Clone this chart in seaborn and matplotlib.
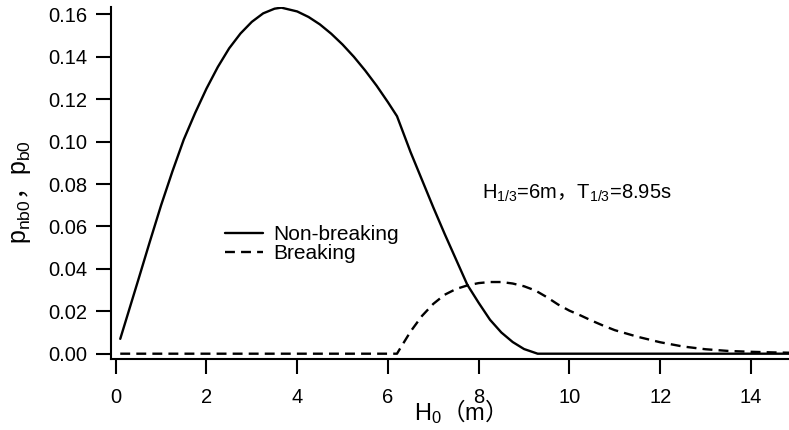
import matplotlib
matplotlib.use("Agg")
import matplotlib.pyplot as plt
import seaborn as sns
import pandas as pd

# Wave height H0 (m) and probability of non-breaking waves
h_nonbreak = [0.1, 0.25, 0.5, 0.75, 1.0, 1.25, 1.5, 1.75, 2.0, 2.25, 2.5, 2.75, 3.0,
              3.25, 3.5, 3.65, 4.0, 4.25, 4.5, 4.75, 5.0, 5.25, 5.5, 5.75, 6.0, 6.2,
              6.5, 6.75, 7.0, 7.25, 7.5, 7.75, 8.0, 8.25, 8.5, 8.75, 9.0, 9.3,
              10.0, 11.0, 12.0, 13.0, 14.0, 15.0]
p_nonbreak = [0.0070, 0.0175, 0.0350, 0.0527, 0.0700, 0.0860, 0.1010, 0.1135, 0.1250,
              0.1352, 0.1440, 0.1510, 0.1565, 0.1605, 0.1627, 0.1632, 0.1614, 0.1588,
              0.1553, 0.1509, 0.1458, 0.1400, 0.1335, 0.1264, 0.1186, 0.1120,
              0.0950, 0.0820, 0.0690, 0.0565, 0.0445, 0.0325, 0.0240, 0.0160, 0.0100,
              0.0055, 0.0022, 0.0, 0.0, 0.0, 0.0, 0.0, 0.0, 0.0]

# Wave height H0 (m) and probability of breaking waves
h_break = [0.1, 1.0, 2.0, 3.0, 4.0, 5.0, 6.0, 6.2, 6.25, 6.5, 6.75, 7.0, 7.25, 7.5, 7.75,
           8.0, 8.25, 8.5, 8.75, 9.0, 9.25, 9.5, 9.75, 10.0, 10.25, 10.5, 10.75, 11.0,
           11.5, 12.0, 12.5, 13.0, 13.5, 14.0, 14.5, 15.0]
p_break = [0.0, 0.0, 0.0, 0.0, 0.0, 0.0, 0.0, 0.0, 0.0018, 0.0105, 0.0178, 0.0235,
           0.0278, 0.0305, 0.0322, 0.0333, 0.0338, 0.0338, 0.0331, 0.0318, 0.0298,
           0.0267, 0.0232, 0.0203, 0.0180, 0.0155, 0.0132, 0.0111, 0.0080, 0.0054,
           0.0034, 0.0021, 0.0013, 0.0009, 0.0006, 0.0004]

series_labels = ["Non-breaking", "Breaking"]
xtick_values = [0, 2, 4, 6, 8, 10, 12, 14]
ytick_values = [0.00, 0.02, 0.04, 0.06, 0.08, 0.10, 0.12, 0.14, 0.16]
ytick_labels = ["0.00", "0.02", "0.04", "0.06", "0.08", "0.10", "0.12", "0.14", "0.16"]

sns.set_style("ticks")
base_font = "Liberation Sans"
plt.rcParams["font.family"] = [base_font, "Noto Sans CJK JP", "DejaVu Sans"]
plt.rcParams["mathtext.fontset"] = "custom"
plt.rcParams["mathtext.sf"] = base_font
plt.rcParams["mathtext.it"] = base_font
plt.rcParams["mathtext.rm"] = "Noto Sans CJK JP"
plt.rcParams["text.color"] = "black"
plt.rcParams["axes.labelcolor"] = "black"

df_nb = pd.DataFrame({"H0": h_nonbreak, "p": p_nonbreak})
df_b = pd.DataFrame({"H0": h_break, "p": p_break})

fig = plt.figure(figsize=(7.89, 4.30), dpi=100)
ax = fig.add_axes([111 / 789, 71 / 430, 678 / 789, 352 / 430])

sns.lineplot(data=df_nb, x="H0", y="p", ax=ax, color="black", linewidth=1.7,
             label=series_labels[0])
sns.lineplot(data=df_b, x="H0", y="p", ax=ax, color="black", linewidth=1.7,
             label=series_labels[1])
ax.lines[1].set_dashes((4.2, 2.6))

ax.set_xlim(-0.104, 14.84)
ax.set_ylim(-0.0025, 0.1635)

for side in ("top", "right"):
    ax.spines[side].set_visible(False)
for side in ("left", "bottom"):
    ax.spines[side].set_linewidth(1.5)
    ax.spines[side].set_color("black")

ax.set_xticks(xtick_values, labels=[str(v) for v in xtick_values])
ax.set_yticks(ytick_values, labels=ytick_labels)
ax.tick_params(axis="both", direction="out", length=10.8, width=1.5,
               colors="black", labelsize=14.5)
ax.tick_params(axis="x", pad=10)
ax.tick_params(axis="y", pad=6)

ax.set_xlabel(r"$\mathsf{H}_\mathsf{0}\mathrm{（}\mathsf{m}\mathrm{）}$", fontsize=17)
ax.xaxis.set_label_coords(0.506, -0.1738)
ax.xaxis.label.set_va("baseline")

ax.set_ylabel(r"$\mathsf{p}_\mathsf{nb0}\mathrm{，}\mathsf{p}_\mathsf{b0}$", fontsize=18)
ax.yaxis.set_label_coords(-0.126, 0.474)
ax.yaxis.label.set_va("baseline")

ax.text(8.08, 0.0733, r"H$_\mathsf{1/3}$=6m$\mathrm{，}$T$_\mathsf{1/3}$=8.95s",
        fontsize=14.5, ha="left", va="baseline", color="black")

handles, labels = ax.get_legend_handles_labels()
leg = ax.legend(handles, labels, loc="upper left",
                bbox_to_anchor=(225 / 789, 1 - 225 / 430),
                bbox_transform=fig.transFigure, frameon=False, fontsize=15,
                handlelength=1.8, handletextpad=0.5, labelspacing=0.02,
                borderpad=0, borderaxespad=0)
for t in leg.get_texts():
    t.set_color("black")

fig.savefig("out.png", dpi=100)
